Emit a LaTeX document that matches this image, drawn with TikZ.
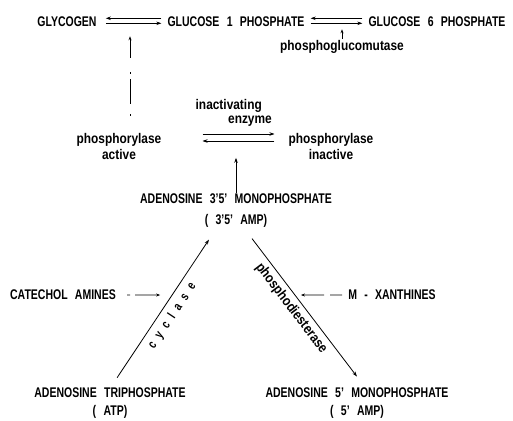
\documentclass[tikz,border=0pt]{standalone}
\usepackage{fontspec}
\setmainfont{Liberation Sans}[FakeStretch=0.75,WordSpace=2.5]
\newfontfamily\enzfont{Liberation Sans}[FakeStretch=0.85]
\usetikzlibrary{arrows.meta}

\tikzset{
  chemlbl/.style={font=\bfseries\fontsize{14}{18}\selectfont, align=center, inner sep=1pt},
  enzlbl/.style={font=\enzfont\bfseries\fontsize{14}{16}\selectfont, align=center, inner sep=1pt},
  cyclbl/.style={font=\bfseries\fontsize{13}{14}\selectfont, inner sep=1.5pt},
  rxn/.style={line width=0.8pt, -{Stealth[length=5pt,width=3.5pt]}},
  act/.style={line width=0.7pt, -{Stealth[length=4pt,width=3pt]}},
}

\begin{document}
\begin{tikzpicture}[x=1pt,y=-1pt]
  % ===== Frame =====
  \useasboundingbox (0,0) rectangle (513,420);

  % ===== Glycogen row =====
  \node[chemlbl] (glyc) at (67,21.3)  {GLYCOGEN};
  \node[chemlbl] (g1p)  at (236,21.3) {GLUCOSE 1 PHOSPHATE};
  \node[chemlbl] (g6p)  at (437,21.3) {GLUCOSE 6 PHOSPHATE};
  \node[enzlbl]  (pgm)  at (342,46.6) {phosphoglucomutase};

  \draw[rxn,shorten <=5pt,shorten >=8pt] ([yshift=3pt]g1p.west) -- ([yshift=3pt]glyc.east);
  \draw[rxn,shorten <=8pt,shorten >=5pt] ([yshift=-2pt]glyc.east) -- ([yshift=-2pt]g1p.west);
  \draw[rxn,shorten <=5pt,shorten >=5pt] ([yshift=3pt]g6p.west) -- ([yshift=3pt]g1p.east);
  \draw[rxn,shorten <=5pt,shorten >=5pt] ([yshift=-2pt]g1p.east) -- ([yshift=-2pt]g6p.west);
  \draw[act,shorten >=8pt] (pgm.north) -- (pgm.north |- g6p.center);

  % ===== Phosphorylase =====
  \node[enzlbl] (pact)   at (119,146.3) {phosphorylase\\active};
  \node[enzlbl] (pinact) at (331,146.3) {phosphorylase\\inactive};
  \node[enzlbl, font=\enzfont\bfseries\fontsize{14}{14}\selectfont, align=right, anchor=south east]
    (inenz) at (273,128) {inactivating\hspace*{10pt}\\enzyme};

  \draw[rxn,shorten <=40pt,shorten >=13pt] ([yshift=12.3pt]pact.east) -- ([yshift=12.3pt]pinact.west);
  \draw[rxn,shorten <=13pt,shorten >=40pt] ([yshift=5.3pt]pinact.west) -- ([yshift=5.3pt]pact.east);
  \draw[act,dash pattern=on 2pt off 10pt on 25pt off 5pt on 2pt off 14pt on 30pt,
        shorten <=16pt,shorten >=15pt] ([xshift=11pt]pact.north) -- ([xshift=11pt]pact.north |- glyc.east);

  % ===== Cyclic AMP =====
  \node[chemlbl] (camp) at (236,211) {ADENOSINE 3'5' MONOPHOSPHATE\\[3pt]( 3'5' AMP)};
  \draw[rxn,line width=1pt,shorten >=11.5pt] (camp.north) -- (camp.north |- pact.east);

  % ===== Bottom row =====
  \node[chemlbl] (atp)  at (110,403.4) {ADENOSINE TRIPHOSPHATE\\( ATP)};
  \node[chemlbl] (famp) at (357,403.4) {ADENOSINE 5' MONOPHOSPHATE\\( 5' AMP)};
  \node[chemlbl] (cat)  at (63,295)    {CATECHOL AMINES};
  \node[chemlbl] (xan)  at (392,295)   {M - XANTHINES};

  \coordinate (cycS) at ([xshift=1pt]atp.north);
  \coordinate (cycE) at ([xshift=-20pt]camp.south);
  \coordinate (pdeS) at ([xshift=8.75pt]camp.south);
  \coordinate (pdeE) at ([xshift=7.8pt]famp.north);

  \draw[rxn,shorten <=11pt,shorten >=12.7pt] (cycS) -- (cycE)
    node[cyclbl, sloped, below=4pt, pos=0.49] {c~y~c~l~a~s~e};
  \draw[rxn,shorten <=12pt,shorten >=13pt] (pdeS) -- (pdeE)
    node[enzlbl, sloped, below=3pt, pos=0.46] {phosphodiesterase};

  \draw[act,dash pattern=on 3pt off 5pt on 40pt,shorten <=10pt,shorten >=12pt]
    (cat.east) -- (intersection of cycS--cycE and cat.east--xan.west);
  \draw[act,dash pattern=on 12pt off 6pt on 40pt,shorten <=5pt,shorten >=6pt]
    (xan.west) -- (intersection of pdeS--pdeE and cat.east--xan.west);

\end{tikzpicture}
\end{document}
